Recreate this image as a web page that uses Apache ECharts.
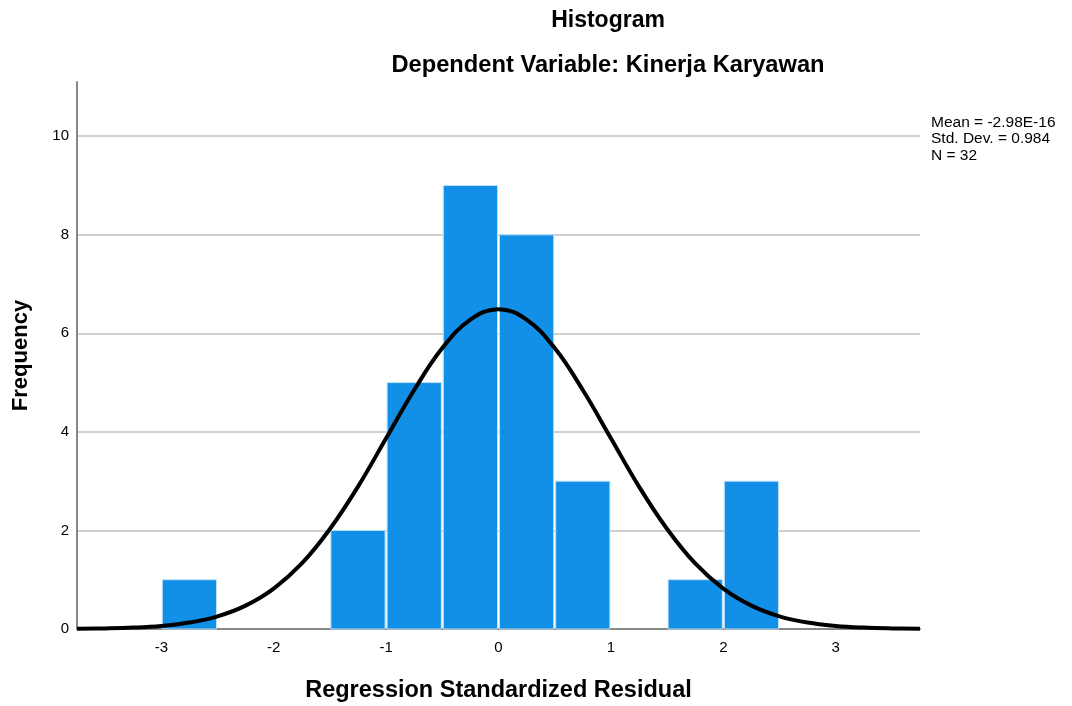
<!DOCTYPE html>
<html>
<head>
<meta charset="utf-8">
<script src="https://cdn.jsdelivr.net/npm/echarts@6/dist/echarts.min.js"></script>
<style>
html,body{margin:0;padding:0;background:#fff;}
#c{width:1072px;height:706px;}
</style>
</head>
<body>
<div id="c"></div>
<script>
// Histogram bins: [start, end]
const binStarts = [-3.0, -1.5, -1.0, -0.5, 0.0, 0.5, 1.5, 2.0];
const binEnds   = [-2.5, -1.0, -0.5, 0.0, 0.5, 1.0, 2.0, 2.5];
const frequencies = [1, 2, 5, 9, 8, 3, 1, 3];

// Normal curve
const curveX = [-3.75,-3.5,-3.25,-3.0,-2.75,-2.5,-2.25,-2.0,-1.75,-1.5,-1.25,-1.0,-0.75,-0.5,-0.25,0.0,0.25,0.5,0.75,1.0,1.25,1.5,1.75,2.0,2.25,2.5,2.75,3.0,3.25,3.5,3.75];
const curveY = [0.005,0.012,0.028,0.062,0.13,0.257,0.475,0.82,1.33,2.03,2.89,3.87,4.85,5.70,6.28,6.49,6.28,5.70,4.85,3.87,2.89,2.03,1.33,0.82,0.475,0.257,0.13,0.062,0.028,0.012,0.005];

const xTicks = [-3, -2, -1, 0, 1, 2, 3];
const yTicks = [0, 2, 4, 6, 8, 10];

const titleText = 'Histogram';
const subtitleText = 'Dependent Variable: Kinerja Karyawan';
const statsLines = ['Mean = -2.98E-16', 'Std. Dev. = 0.984', 'N = 32'];

const FONT = '"Liberation Sans", Arial, sans-serif';

const chart = echarts.init(document.getElementById('c'));

const histData = binStarts.map((s, i) => [s, binEnds[i], frequencies[i]]);
const curveData = curveX.map((x, i) => [x, curveY[i]]);

chart.setOption({
  animation: false,
  backgroundColor: '#fff',
  title: [
    { text: titleText, left: 603, top: 4, textAlign: 'center',
      textStyle: { fontFamily: FONT, fontSize: 23, fontWeight: 'bold', color: '#000' } },
    { text: subtitleText, left: 603, top: 48, textAlign: 'center',
      textStyle: { fontFamily: FONT, fontSize: 23.7, fontWeight: 'bold', color: '#000' } }
  ],
  grid: { left: 77, right: 152, top: 82, bottom: 77, containLabel: false, outerBoundsMode: 'none' },
  xAxis: {
    type: 'value',
    min: -3.75, max: 3.75, interval: 0.25,
    name: 'Regression Standardized Residual',
    nameLocation: 'middle', nameGap: 50,
    nameTextStyle: { fontFamily: FONT, fontSize: 23.5, fontWeight: 'bold', color: '#000' },
    axisLine: { show: true, onZero: false, lineStyle: { color: '#888', width: 2 } },
    axisTick: { show: false },
    splitLine: { show: false },
    axisLabel: {
      fontFamily: FONT, fontSize: 15, color: '#000', margin: 11,
      showMinLabel: false, showMaxLabel: false, hideOverlap: false, interval: 0,
      formatter: v => xTicks.indexOf(Math.round(v * 100) / 100) >= 0 ? String(Math.round(v)) : ''
    }
  },
  yAxis: {
    type: 'value',
    min: 0, max: 11.1, interval: 2,
    name: 'Frequency',
    nameLocation: 'middle', nameGap: 45, nameRotate: 90,
    nameTextStyle: { fontFamily: FONT, fontSize: 22, fontWeight: 'bold', color: '#000' },
    axisLine: { show: true, onZero: false, lineStyle: { color: '#888', width: 2 } },
    axisTick: { show: false },
    splitLine: { show: true, showMinLine: false, showMaxLine: false, lineStyle: { color: '#d0d0d0', width: 2 } },
    axisLabel: {
      fontFamily: FONT, fontSize: 15, color: '#000', margin: 8,
      showMaxLabel: false,
      formatter: v => yTicks.indexOf(v) >= 0 ? String(v) : ''
    }
  },
  series: [
    {
      type: 'custom',
      data: histData,
      z: 2,
      renderItem: function (params, api) {
        const p0 = api.coord([api.value(0), api.value(2)]);
        const p1 = api.coord([api.value(1), 0]);
        return {
          type: 'rect',
          shape: { x: p0[0] + 1, y: p0[1], width: p1[0] - p0[0] - 2, height: p1[1] - p0[1] },
          style: { fill: '#128fe6', stroke: '#bfe0f8', lineWidth: 1 }
        };
      }
    },
    {
      type: 'line',
      data: curveData,
      smooth: 0.4,
      showSymbol: false,
      symbol: 'none',
      z: 5,
      lineStyle: { color: '#000', width: 4 }
    }
  ],
  graphic: [
    {
      type: 'text', left: 931, top: 114, z: 10,
      style: { text: statsLines.join('\n'), fontFamily: FONT, fontSize: 15.5, lineHeight: 16.5, fill: '#000' }
    }
  ]
});
</script>
</body>
</html>
